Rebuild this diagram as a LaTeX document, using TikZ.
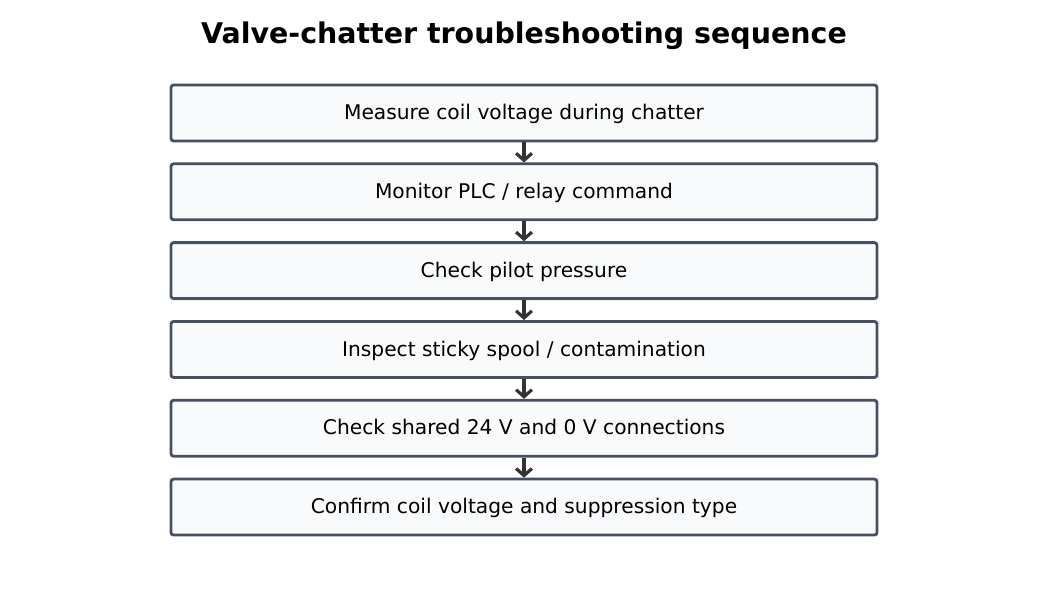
\documentclass[tikz,border=0pt]{standalone}
\usepackage{fontspec}
\setmainfont{DejaVu Sans}
\usetikzlibrary{positioning, arrows.meta}
\definecolor{boxline}{HTML}{475063}
\definecolor{boxfill}{HTML}{F8FAFC}
\definecolor{arrowcol}{HTML}{333333}
\tikzset{
    stage/.style = {rectangle, draw=boxline, fill=boxfill, line width=1.6pt,
        rounded corners=1.5pt, minimum width=14.12cm, minimum height=1.12cm,
        text height=1.6ex, text depth=0.2ex, text centered,
        font=\fontsize{11.5}{13}\selectfont},
    link/.style = {draw=arrowcol, line width=1.8pt, -{Straight Barb[length=4pt,width=9pt]}}
}
\begin{document}
\begin{tikzpicture}[node distance=0.4cm]

    \useasboundingbox (0,0) rectangle (20.94,-12.12);

    \node [font=\bfseries\fontsize{16.2}{18}\selectfont] (title) at (10.48,-0.72) {Valve-chatter troubleshooting sequence};

    \node [stage] (voltage) at (10.48,-2.26) {Measure coil voltage during chatter};
    \node [stage, below=of voltage] (plc) {Monitor PLC / relay command};
    \node [stage, below=of plc] (pilot) {Check pilot pressure};
    \node [stage, below=of pilot] (spool) {Inspect sticky spool / contamination};
    \node [stage, below=of spool] (shared) {Check shared 24 V and 0 V connections};
    \node [stage, below=of shared] (confirm) {Confirm coil voltage and suppression type};

    \path [link] (voltage) -- (plc);
    \path [link] (plc) -- (pilot);
    \path [link] (pilot) -- (spool);
    \path [link] (spool) -- (shared);
    \path [link] (shared) -- (confirm);

\end{tikzpicture}
\end{document}
